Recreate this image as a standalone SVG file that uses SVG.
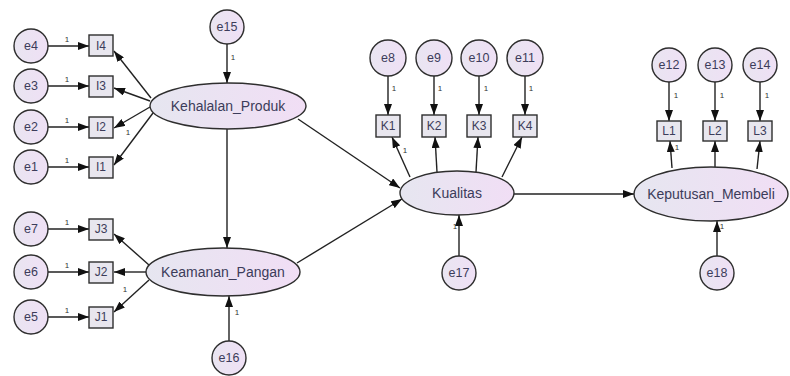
<svg xmlns="http://www.w3.org/2000/svg" width="790" height="376" viewBox="0 0 790 376">
<defs>
<linearGradient id="lg" x1="0" y1="0" x2="1" y2="0">
<stop offset="0" stop-color="#e6e6f0"/>
<stop offset="1" stop-color="#f1def5"/>
</linearGradient>
<linearGradient id="cg" x1="0" y1="0" x2="1" y2="0">
<stop offset="0" stop-color="#e9e5f1"/>
<stop offset="1" stop-color="#efe0f5"/>
</linearGradient>
<marker id="ah" markerWidth="11" markerHeight="8" refX="11" refY="4" orient="auto" markerUnits="userSpaceOnUse">
<path d="M0,0 L11,4 L0,8 z" fill="#111"/>
</marker>
</defs>
<style>
.bg{fill:#ffffff}
.lat{fill:url(#lg);stroke:#2e2e2e;stroke-width:1.4}
.err{fill:url(#cg);stroke:#2e2e2e;stroke-width:1.4}
.obs{fill:#e8e6ee;stroke:#2e2e2e;stroke-width:1.4}
.c{stroke:#222;stroke-width:1.4;fill:none;marker-end:url(#ah)}
.t{font-family:"Liberation Sans",Arial,sans-serif;fill:#3c3c5a;text-anchor:middle;dominant-baseline:central}
.lt{font-size:14px}
.et{font-size:12.5px}
.bt{font-size:12px}
.w{font-family:"Liberation Sans",Arial,sans-serif;font-size:8px;fill:#333;text-anchor:middle}
</style>
<rect class="bg" x="0" y="0" width="790" height="376"/>
<g id="connectors">
<line class="c" x1="48" y1="46" x2="89" y2="46"/>
<line class="c" x1="48" y1="86" x2="89" y2="86"/>
<line class="c" x1="48" y1="127" x2="89" y2="127"/>
<line class="c" x1="48" y1="167" x2="89" y2="167"/>
<line class="c" x1="48" y1="229" x2="89" y2="229"/>
<line class="c" x1="48" y1="272" x2="89" y2="272"/>
<line class="c" x1="48" y1="317" x2="89" y2="317"/>
<line class="c" x1="151" y1="98" x2="114" y2="51"/>
<line class="c" x1="150" y1="101" x2="114" y2="88"/>
<line class="c" x1="150" y1="107" x2="114" y2="128"/>
<line class="c" x1="153" y1="113" x2="114" y2="165"/>
<line class="c" x1="149" y1="265" x2="114" y2="234"/>
<line class="c" x1="146" y1="272" x2="114" y2="272"/>
<line class="c" x1="149" y1="280" x2="114" y2="312"/>
<line class="c" x1="227" y1="44" x2="227" y2="83"/>
<line class="c" x1="227" y1="129" x2="227" y2="248"/>
<line class="c" x1="229" y1="341" x2="229" y2="296"/>
<line class="c" x1="298" y1="119" x2="400" y2="188"/>
<line class="c" x1="297" y1="263" x2="402" y2="199"/>
<line class="c" x1="388" y1="76" x2="388" y2="115"/>
<line class="c" x1="434" y1="76" x2="434" y2="115"/>
<line class="c" x1="479" y1="76" x2="479" y2="115"/>
<line class="c" x1="525" y1="76" x2="525" y2="115"/>
<line class="c" x1="410" y1="177" x2="392" y2="137"/>
<line class="c" x1="437" y1="172" x2="435" y2="137"/>
<line class="c" x1="476" y1="172" x2="478" y2="137"/>
<line class="c" x1="502" y1="177" x2="522" y2="137"/>
<line class="c" x1="459" y1="256" x2="459" y2="215"/>
<line class="c" x1="514" y1="194" x2="634" y2="194"/>
<line class="c" x1="669" y1="82" x2="669" y2="121"/>
<line class="c" x1="715" y1="82" x2="715" y2="121"/>
<line class="c" x1="760" y1="82" x2="760" y2="121"/>
<line class="c" x1="672" y1="168" x2="670" y2="141"/>
<line class="c" x1="715" y1="167" x2="715" y2="141"/>
<line class="c" x1="757" y1="169" x2="760" y2="141"/>
<line class="c" x1="717" y1="256" x2="717" y2="221"/>
<text class="w" x="67" y="42">1</text>
<text class="w" x="67" y="82">1</text>
<text class="w" x="67" y="123">1</text>
<text class="w" x="67" y="163">1</text>
<text class="w" x="67" y="225">1</text>
<text class="w" x="67" y="268">1</text>
<text class="w" x="67" y="313">1</text>
<text class="w" x="128" y="135">1</text>
<text class="w" x="125" y="292">1</text>
<text class="w" x="233" y="60">1</text>
<text class="w" x="237" y="315">1</text>
<text class="w" x="394" y="91">1</text>
<text class="w" x="440" y="91">1</text>
<text class="w" x="486" y="91">1</text>
<text class="w" x="531" y="91">1</text>
<text class="w" x="405" y="153">1</text>
<text class="w" x="455" y="229">1</text>
<text class="w" x="676" y="98">1</text>
<text class="w" x="722" y="98">1</text>
<text class="w" x="767" y="98">1</text>
<text class="w" x="677" y="150">1</text>
<text class="w" x="722" y="229">1</text>
</g>
<g id="e4"><circle class="err" cx="31" cy="46" r="17"/><text class="t et" x="31" y="46">e4</text></g>
<g id="e3"><circle class="err" cx="31" cy="86" r="17"/><text class="t et" x="31" y="86">e3</text></g>
<g id="e2"><circle class="err" cx="31" cy="127" r="17"/><text class="t et" x="31" y="127">e2</text></g>
<g id="e1"><circle class="err" cx="31" cy="167" r="17"/><text class="t et" x="31" y="167">e1</text></g>
<g id="e7"><circle class="err" cx="31" cy="229" r="17"/><text class="t et" x="31" y="229">e7</text></g>
<g id="e6"><circle class="err" cx="31" cy="272" r="17"/><text class="t et" x="31" y="272">e6</text></g>
<g id="e5"><circle class="err" cx="31" cy="317" r="17"/><text class="t et" x="31" y="317">e5</text></g>
<g id="I4"><rect class="obs" x="89" y="35" width="24" height="21"/><text class="t bt" x="101" y="46">I4</text></g>
<g id="I3"><rect class="obs" x="89" y="76" width="24" height="21"/><text class="t bt" x="101" y="86">I3</text></g>
<g id="I2"><rect class="obs" x="89" y="117" width="24" height="21"/><text class="t bt" x="101" y="127">I2</text></g>
<g id="I1"><rect class="obs" x="89" y="157" width="24" height="21"/><text class="t bt" x="101" y="167">I1</text></g>
<g id="J3"><rect class="obs" x="89" y="219" width="24" height="21"/><text class="t bt" x="101" y="229">J3</text></g>
<g id="J2"><rect class="obs" x="89" y="262" width="24" height="21"/><text class="t bt" x="101" y="272">J2</text></g>
<g id="J1"><rect class="obs" x="89" y="307" width="24" height="21"/><text class="t bt" x="101" y="317">J1</text></g>
<g id="e15"><circle class="err" cx="227" cy="27" r="17"/><text class="t et" x="227" y="27">e15</text></g>
<g id="Kehalalan_Produk"><ellipse class="lat" cx="228" cy="106" rx="78" ry="23"/><text class="t lt" x="228" y="106">Kehalalan_Produk</text></g>
<g id="Keamanan_Pangan"><ellipse class="lat" cx="223" cy="272" rx="77" ry="24"/><text class="t lt" x="223" y="272">Keamanan_Pangan</text></g>
<g id="e16"><circle class="err" cx="229" cy="358" r="17"/><text class="t et" x="229" y="358">e16</text></g>
<g id="e8"><circle class="err" cx="388" cy="58" r="18"/><text class="t et" x="388" y="58">e8</text></g>
<g id="e9"><circle class="err" cx="434" cy="58" r="18"/><text class="t et" x="434" y="58">e9</text></g>
<g id="e10"><circle class="err" cx="479" cy="58" r="18"/><text class="t et" x="479" y="58">e10</text></g>
<g id="e11"><circle class="err" cx="525" cy="58" r="18"/><text class="t et" x="525" y="58">e11</text></g>
<g id="K1"><rect class="obs" x="376" y="115" width="24" height="22"/><text class="t bt" x="388" y="126">K1</text></g>
<g id="K2"><rect class="obs" x="422" y="115" width="24" height="22"/><text class="t bt" x="434" y="126">K2</text></g>
<g id="K3"><rect class="obs" x="467" y="115" width="24" height="22"/><text class="t bt" x="479" y="126">K3</text></g>
<g id="K4"><rect class="obs" x="513" y="115" width="24" height="22"/><text class="t bt" x="525" y="126">K4</text></g>
<g id="Kualitas"><ellipse class="lat" cx="457" cy="193" rx="57" ry="22"/><text class="t lt" x="457" y="193">Kualitas</text></g>
<g id="e17"><circle class="err" cx="459" cy="273" r="17"/><text class="t et" x="459" y="273">e17</text></g>
<g id="e12"><circle class="err" cx="669" cy="65" r="17"/><text class="t et" x="669" y="65">e12</text></g>
<g id="e13"><circle class="err" cx="715" cy="65" r="17"/><text class="t et" x="715" y="65">e13</text></g>
<g id="e14"><circle class="err" cx="760" cy="65" r="17"/><text class="t et" x="760" y="65">e14</text></g>
<g id="L1"><rect class="obs" x="657" y="121" width="24" height="20"/><text class="t bt" x="669" y="131">L1</text></g>
<g id="L2"><rect class="obs" x="703" y="121" width="24" height="20"/><text class="t bt" x="715" y="131">L2</text></g>
<g id="L3"><rect class="obs" x="748" y="121" width="24" height="20"/><text class="t bt" x="760" y="131">L3</text></g>
<g id="Keputusan_Membeli"><ellipse class="lat" cx="711" cy="194" rx="77" ry="27"/><text class="t lt" x="711" y="194">Keputusan_Membeli</text></g>
<g id="e18"><circle class="err" cx="717" cy="273" r="17"/><text class="t et" x="717" y="273">e18</text></g>
</svg>
